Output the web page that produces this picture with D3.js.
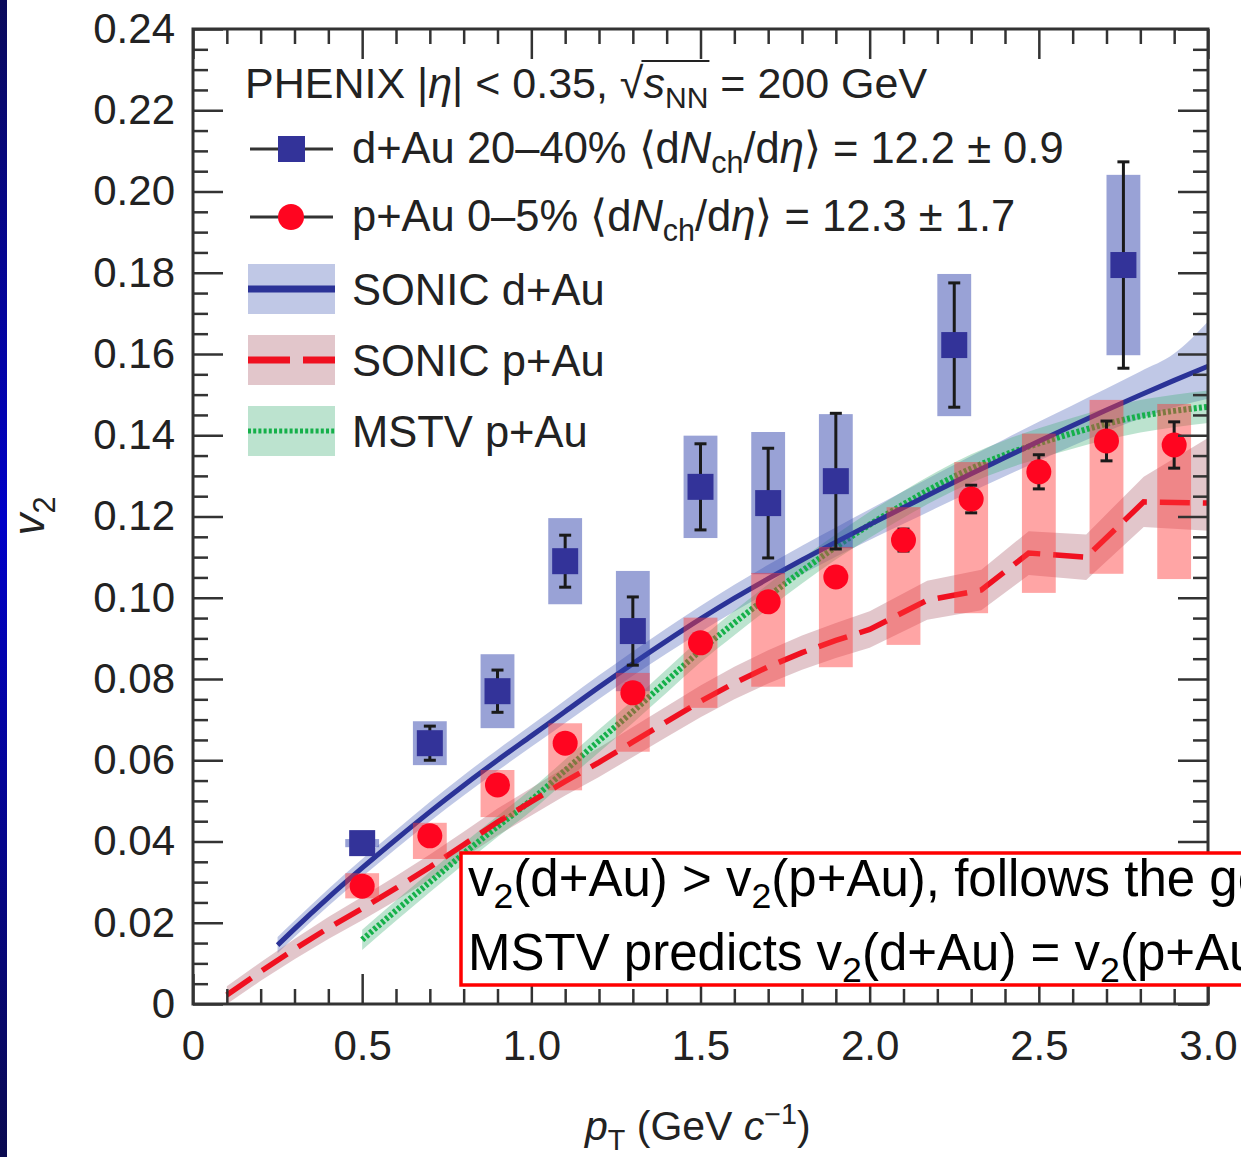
<!DOCTYPE html>
<html>
<head>
<meta charset="utf-8">
<script src="https://cdn.jsdelivr.net/npm/d3@7"></script>
<style>
  html, body { margin: 0; padding: 0; background: #fff; overflow: hidden; }
  svg { display: block; font-family: 'Liberation Sans', Arial, Helvetica, sans-serif; }
</style>
</head>
<body>
<svg id="chart" width="1241" height="1157"></svg>
<script>
// PHENIX d+Au 20-40% points
const dAuPt = [0.5, 0.7, 0.9, 1.1, 1.3, 1.5, 1.7, 1.9, 2.25, 2.75];
const dAuV2 = [0.0396, 0.0642, 0.0770, 0.1090, 0.0918, 0.1273, 0.1233, 0.1287, 0.1622, 0.1819];
const dAuStat = [0.0007, 0.0042, 0.0052, 0.0064, 0.0084, 0.0106, 0.0135, 0.0167, 0.0153, 0.0254];
const dAuSys = [0.0010, 0.0054, 0.0091, 0.0106, 0.0148, 0.0126, 0.0175, 0.0165, 0.0175, 0.0222];

// PHENIX p+Au 0-5% points
const pAuPt = [0.5, 0.7, 0.9, 1.1, 1.3, 1.5, 1.7, 1.9, 2.1, 2.3, 2.5, 2.7, 2.9];
const pAuV2 = [0.0290, 0.0414, 0.0539, 0.0642, 0.0766, 0.0889, 0.0990, 0.1051, 0.1142, 0.1243, 0.1310, 0.1386, 0.1376];
const pAuStat = [0.0005, 0.0007, 0.0009, 0.0011, 0.0014, 0.0017, 0.0020, 0.0023, 0.0027, 0.0034, 0.0042, 0.0049, 0.0057];
const pAuSysUp = [0.0032, 0.0032, 0.0037, 0.0049, 0.0049, 0.0062, 0.0071, 0.0074, 0.0081, 0.0091, 0.0094, 0.0101, 0.0101];
const pAuSysDown = [0.0030, 0.0057, 0.0079, 0.0116, 0.0145, 0.0160, 0.0209, 0.0222, 0.0258, 0.0281, 0.0298, 0.0327, 0.0330];

// SONIC d+Au curve
const sonicDAuPt = [0.25, 0.3, 0.4, 0.5, 0.6, 0.7, 0.8, 0.9, 1.0, 1.1, 1.2, 1.3, 1.4, 1.5, 1.6, 1.7, 1.8, 1.9, 2.0, 2.1, 2.2, 2.3, 2.4, 2.5, 2.6, 2.7, 2.8, 2.9, 3.0];
const sonicDAuV2 = [0.0145, 0.0185, 0.0262, 0.0335, 0.0405, 0.0473, 0.0538, 0.0600, 0.0660, 0.0720, 0.0780, 0.0838, 0.0894, 0.0948, 0.0999, 0.1047, 0.1093, 0.1137, 0.1180, 0.1222, 0.1264, 0.1305, 0.1345, 0.1385, 0.1424, 0.1462, 0.1499, 0.1535, 0.1570];
const sonicDAuBandLo = [0.0020, 0.0020, 0.0021, 0.0022, 0.0023, 0.0024, 0.0025, 0.0026, 0.0027, 0.0028, 0.0029, 0.0030, 0.0031, 0.0032, 0.0033, 0.0034, 0.0035, 0.0036, 0.0038, 0.0040, 0.0042, 0.0044, 0.0046, 0.0048, 0.0050, 0.0053, 0.0058, 0.0066, 0.0080];
const sonicDAuBandHi = [0.0020, 0.0020, 0.0021, 0.0022, 0.0023, 0.0024, 0.0025, 0.0026, 0.0027, 0.0028, 0.0029, 0.0030, 0.0031, 0.0032, 0.0033, 0.0034, 0.0035, 0.0036, 0.0038, 0.0040, 0.0042, 0.0044, 0.0046, 0.0048, 0.0050, 0.0053, 0.0058, 0.0066, 0.0110];

// SONIC p+Au curve
const sonicPAuPt = [0.1, 0.2, 0.3, 0.4, 0.5, 0.6, 0.7, 0.8, 0.9, 1.0, 1.1, 1.2, 1.3, 1.4, 1.5, 1.6, 1.7, 1.8, 1.9, 2.0, 2.17, 2.33, 2.47, 2.64, 2.81, 3.0];
const sonicPAuV2 = [0.0022, 0.0080, 0.0135, 0.0187, 0.0235, 0.0285, 0.0337, 0.0392, 0.0448, 0.0498, 0.0548, 0.0595, 0.0645, 0.0695, 0.0745, 0.0790, 0.0830, 0.0865, 0.0895, 0.0922, 0.0994, 0.1019, 0.1110, 0.1100, 0.1236, 0.1233];
const sonicPAuBandLo = [0.0022, 0.0023, 0.0025, 0.0027, 0.0029, 0.0030, 0.0031, 0.0032, 0.0033, 0.0034, 0.0035, 0.0036, 0.0037, 0.0038, 0.0039, 0.0040, 0.0041, 0.0042, 0.0043, 0.0045, 0.0048, 0.0050, 0.0054, 0.0056, 0.0062, 0.0068];
const sonicPAuBandHi = [0.0022, 0.0023, 0.0025, 0.0027, 0.0029, 0.0030, 0.0031, 0.0032, 0.0033, 0.0034, 0.0035, 0.0036, 0.0037, 0.0038, 0.0039, 0.0040, 0.0041, 0.0042, 0.0043, 0.0045, 0.0048, 0.0050, 0.0054, 0.0056, 0.0062, 0.0160];

// MSTV p+Au curve
const mstvPt = [0.5, 0.6, 0.7, 0.8, 0.9, 1.0, 1.1, 1.2, 1.3, 1.4, 1.5, 1.6, 1.7, 1.8, 1.9, 2.0, 2.1, 2.2, 2.3, 2.4, 2.5, 2.6, 2.7, 2.8, 2.9, 3.0];
const mstvV2 = [0.0158, 0.0230, 0.0300, 0.0370, 0.0437, 0.0502, 0.0575, 0.0648, 0.0720, 0.0795, 0.0870, 0.0938, 0.1003, 0.1066, 0.1125, 0.1180, 0.1230, 0.1277, 0.1318, 0.1352, 0.1380, 0.1405, 0.1428, 0.1447, 0.1460, 0.1470];
const mstvBand = [0.0025, 0.0025, 0.0025, 0.0026, 0.0026, 0.0027, 0.0027, 0.0028, 0.0028, 0.0029, 0.0029, 0.0030, 0.0030, 0.0031, 0.0031, 0.0032, 0.0033, 0.0034, 0.0035, 0.0036, 0.0037, 0.0038, 0.0039, 0.0040, 0.0040, 0.0040];

// axes
const xTickValues = [0, 0.5, 1.0, 1.5, 2.0, 2.5, 3.0];
const xTickLabels = ['0', '0.5', '1.0', '1.5', '2.0', '2.5', '3.0'];
const yTickValues = [0, 0.02, 0.04, 0.06, 0.08, 0.10, 0.12, 0.14, 0.16, 0.18, 0.20, 0.22, 0.24];
const yTickLabels = ['0', '0.02', '0.04', '0.06', '0.08', '0.10', '0.12', '0.14', '0.16', '0.18', '0.20', '0.22', '0.24'];

const width = 1241;
const height = 1157;
const plot = { left: 193, right: 1208, top: 29, bottom: 1004 };
const boxHalf = 0.05;

const svg = d3.select('#chart');

const scaleX = d3.scaleLinear().domain([0, 3]).range([plot.left, plot.right]);
const scaleY = d3.scaleLinear().domain([0, 0.24]).range([plot.bottom, plot.top]);

// navy strip on the left edge
const grad = svg.append('defs').append('linearGradient')
  .attr('id', 'strip').attr('x1', 0).attr('x2', 0).attr('y1', 0).attr('y2', 1);
grad.append('stop').attr('offset', '0%').attr('stop-color', '#0a0a5a');
grad.append('stop').attr('offset', '45%').attr('stop-color', '#0000c8');
grad.append('stop').attr('offset', '100%').attr('stop-color', '#0a0a50');
svg.append('rect').attr('x', 0).attr('y', 0).attr('width', 7).attr('height', height).attr('fill', 'url(#strip)');

const richText = (parent, parts, size) => {
  let shift = 0;
  parts.forEach(p => {
    const target = p.sub ? size * 0.24 : p.sup ? -size * 0.4 : 0;
    const ts = parent.append('tspan').text(p.t);
    if (target !== shift) {
      ts.attr('dy', target - shift);
      shift = target;
    }
    if (p.sub || p.sup) ts.attr('font-size', size * (p.small || 0.7));
    if (p.it) ts.attr('font-style', 'italic');
  });
};

const zip = (a, b, lo, hi) => a.map((d, i) => ({ x: d, y: b[i], lo: lo ? lo[i] : 0, hi: hi ? hi[i] : 0 }));

// theory bands
const bandSmooth = d3.area()
  .curve(d3.curveMonotoneX)
  .x(d => scaleX(d.x))
  .y0(d => scaleY(d.y - d.lo))
  .y1(d => scaleY(d.y + d.hi));
const bandLinear = d3.area()
  .x(d => scaleX(d.x))
  .y0(d => scaleY(d.y - d.lo))
  .y1(d => scaleY(d.y + d.hi));

const groupBands = svg.append('g');
groupBands.append('path').attr('d', bandSmooth(zip(sonicDAuPt, sonicDAuV2, sonicDAuBandLo, sonicDAuBandHi)))
  .attr('fill', '#6a7cc4').attr('opacity', 0.42);
groupBands.append('path').attr('d', bandLinear(zip(sonicPAuPt, sonicPAuV2, sonicPAuBandLo, sonicPAuBandHi)))
  .attr('fill', '#b06070').attr('opacity', 0.36);
groupBands.append('path').attr('d', bandSmooth(zip(mstvPt, mstvV2, mstvBand, mstvBand)))
  .attr('fill', '#40b075').attr('opacity', 0.35);

// theory lines
const lineSmooth = d3.line().curve(d3.curveMonotoneX).x(d => scaleX(d.x)).y(d => scaleY(d.y));
const lineLinear = d3.line().x(d => scaleX(d.x)).y(d => scaleY(d.y));
const groupLines = svg.append('g').attr('fill', 'none');
groupLines.append('path').attr('d', lineSmooth(zip(mstvPt, mstvV2)))
  .attr('stroke', '#15b04a').attr('stroke-width', 6).attr('stroke-dasharray', '3 2.2');
groupLines.append('path').attr('d', lineSmooth(zip(sonicDAuPt, sonicDAuV2)))
  .attr('stroke', '#2b3397').attr('stroke-width', 5);
groupLines.append('path').attr('d', lineLinear(zip(sonicPAuPt, sonicPAuV2)))
  .attr('stroke', '#f01020').attr('stroke-width', 5.5).attr('stroke-dasharray', '30 13');

// systematic boxes
const boxW = scaleX(2 * boxHalf) - scaleX(0);
const groupBoxes = svg.append('g');
groupBoxes.selectAll('rect.sys-dau')
  .data(dAuPt)
  .join('rect')
  .attr('class', 'sys-dau')
  .attr('x', d => scaleX(d - boxHalf))
  .attr('width', boxW)
  .attr('y', (d, i) => scaleY(dAuV2[i] + dAuSys[i]))
  .attr('height', (d, i) => scaleY(dAuV2[i] - dAuSys[i]) - scaleY(dAuV2[i] + dAuSys[i]))
  .attr('fill', '#3346ad').attr('opacity', 0.5);
groupBoxes.selectAll('rect.sys-pau')
  .data(pAuPt)
  .join('rect')
  .attr('class', 'sys-pau')
  .attr('x', d => scaleX(d - boxHalf))
  .attr('width', boxW)
  .attr('y', (d, i) => scaleY(pAuV2[i] + pAuSysUp[i]))
  .attr('height', (d, i) => scaleY(pAuV2[i] - pAuSysDown[i]) - scaleY(pAuV2[i] + pAuSysUp[i]))
  .attr('fill', '#ff3838').attr('opacity', 0.45);

// statistical error bars
const drawErrors = (pts, vals, errs) => {
  const g = svg.append('g').attr('stroke', '#1a1a1a').attr('stroke-width', 3);
  pts.forEach((p, i) => {
    const cx = scaleX(p);
    const y1 = scaleY(vals[i] + errs[i]);
    const y2 = scaleY(vals[i] - errs[i]);
    g.append('line').attr('x1', cx).attr('x2', cx).attr('y1', y1).attr('y2', y2);
    g.append('line').attr('x1', cx - 6).attr('x2', cx + 6).attr('y1', y1).attr('y2', y1);
    g.append('line').attr('x1', cx - 6).attr('x2', cx + 6).attr('y1', y2).attr('y2', y2);
  });
};
drawErrors(dAuPt, dAuV2, dAuStat);
drawErrors(pAuPt, pAuV2, pAuStat);

// markers
const sq = 26;
svg.append('g').selectAll('rect')
  .data(dAuPt)
  .join('rect')
  .attr('x', d => scaleX(d) - sq / 2)
  .attr('y', (d, i) => scaleY(dAuV2[i]) - sq / 2)
  .attr('width', sq).attr('height', sq)
  .attr('fill', '#333399');
svg.append('g').selectAll('circle')
  .data(pAuPt)
  .join('circle')
  .attr('cx', d => scaleX(d))
  .attr('cy', (d, i) => scaleY(pAuV2[i]))
  .attr('r', 12.5)
  .attr('fill', '#ff0520');

// axes and frame
const minorX = d3.range(0.1, 3.0, 0.1).filter(v => Math.abs(v * 2 - Math.round(v * 2)) > 0.01);
const minorY = d3.range(0.005, 0.24, 0.005).filter(v => Math.abs(v * 50 - Math.round(v * 50)) > 0.01);

const styleAxis = g => {
  g.select('.domain').remove();
  g.selectAll('.tick line').attr('stroke', '#333').attr('stroke-width', 2.5);
  g.selectAll('.tick text').attr('font-size', 42).attr('fill', '#222')
    .attr('font-family', "'Liberation Sans', Arial, sans-serif");
};

const axisLayer = svg.append('g');
axisLayer.append('g').attr('transform', `translate(0,${plot.bottom})`)
  .call(d3.axisBottom(scaleX).tickValues(xTickValues).tickFormat((d, i) => xTickLabels[i]).tickSize(-30).tickPadding(26))
  .call(styleAxis);
axisLayer.append('g').attr('transform', `translate(0,${plot.bottom})`)
  .call(d3.axisBottom(scaleX).tickValues(minorX).tickFormat('').tickSize(-15))
  .call(styleAxis);
axisLayer.append('g').attr('transform', `translate(0,${plot.top})`)
  .call(d3.axisTop(scaleX).tickValues(xTickValues).tickFormat('').tickSize(-30))
  .call(styleAxis);
axisLayer.append('g').attr('transform', `translate(0,${plot.top})`)
  .call(d3.axisTop(scaleX).tickValues(minorX).tickFormat('').tickSize(-15))
  .call(styleAxis);
axisLayer.append('g').attr('transform', `translate(${plot.left},0)`)
  .call(d3.axisLeft(scaleY).tickValues(yTickValues).tickFormat((d, i) => yTickLabels[i]).tickSize(-30).tickPadding(18))
  .call(styleAxis);
axisLayer.append('g').attr('transform', `translate(${plot.left},0)`)
  .call(d3.axisLeft(scaleY).tickValues(minorY).tickFormat('').tickSize(-15))
  .call(styleAxis);
axisLayer.append('g').attr('transform', `translate(${plot.right},0)`)
  .call(d3.axisRight(scaleY).tickValues(yTickValues).tickFormat('').tickSize(-30))
  .call(styleAxis);
axisLayer.append('g').attr('transform', `translate(${plot.right},0)`)
  .call(d3.axisRight(scaleY).tickValues(minorY).tickFormat('').tickSize(-15))
  .call(styleAxis);

axisLayer.append('rect')
  .attr('x', plot.left).attr('y', plot.top)
  .attr('width', plot.right - plot.left).attr('height', plot.bottom - plot.top)
  .attr('fill', 'none').attr('stroke', '#333').attr('stroke-width', 3);

// axis titles
const yTitle = svg.append('text')
  .attr('transform', 'translate(44,516) rotate(-90)')
  .attr('text-anchor', 'middle').attr('font-size', 44).attr('fill', '#222');
richText(yTitle, [{ t: 'v', it: true }, { t: '2', sub: true }], 44);

const xTitle = svg.append('text')
  .attr('x', 585).attr('y', 1140).attr('font-size', 41).attr('fill', '#222');
richText(xTitle, [
  { t: 'p', it: true }, { t: 'T', sub: true }, { t: ' (GeV ' }, { t: 'c', it: true },
  { t: '\u22121', sup: true }, { t: ')' }
], 41);

// legend
const legend = svg.append('g').attr('fill', '#222');
const fs = 43.5;

const titleParts = [
  { t: 'PHENIX |' }, { t: '\u03b7', it: true }, { t: '| < 0.35, \u221a' },
  { t: 's', it: true }, { t: 'NN', sub: true }, { t: ' = 200 GeV' }
];
const title = legend.append('text').attr('x', 245).attr('y', 98).attr('font-size', 43);
richText(title, titleParts, 43);
const sStart = titleParts.slice(0, 3).map(p => p.t).join('').length;
const nnEnd = sStart + 2;
const tn = title.node();
const ox1 = tn.getStartPositionOfChar(sStart).x;
const ox2 = tn.getEndPositionOfChar(nnEnd).x;
legend.append('line').attr('x1', ox1 - 2).attr('x2', ox2 + 1).attr('y1', 61).attr('y2', 61)
  .attr('stroke', '#222').attr('stroke-width', 2.2);

const markerRow = (yy, label) => {
  legend.append('line').attr('x1', 250).attr('x2', 333).attr('y1', yy).attr('y2', yy)
    .attr('stroke', '#333').attr('stroke-width', 3);
  const t = legend.append('text').attr('x', 352).attr('y', yy + 14).attr('font-size', fs);
  richText(t, label, fs);
};
markerRow(149, [
  { t: 'd+Au 20\u201340% \u27e8d' }, { t: 'N', it: true }, { t: 'ch', sub: true },
  { t: '/d' }, { t: '\u03b7', it: true }, { t: '\u27e9 = 12.2 \u00b1 0.9' }
]);
legend.append('rect').attr('x', 278).attr('y', 136).attr('width', 27).attr('height', 26).attr('fill', '#333399');
markerRow(217, [
  { t: 'p+Au 0\u20135% \u27e8d' }, { t: 'N', it: true }, { t: 'ch', sub: true },
  { t: '/d' }, { t: '\u03b7', it: true }, { t: '\u27e9 = 12.3 \u00b1 1.7' }
]);
legend.append('circle').attr('cx', 291).attr('cy', 217).attr('r', 13).attr('fill', '#ff0520');

const bandRow = (yy, fill, fillOpacity, stroke, sw, dash, label) => {
  legend.append('rect').attr('x', 248).attr('y', yy - 25).attr('width', 87).attr('height', 50)
    .attr('fill', fill).attr('opacity', fillOpacity);
  const l = legend.append('line').attr('x1', 248).attr('x2', 335).attr('y1', yy).attr('y2', yy)
    .attr('stroke', stroke).attr('stroke-width', sw);
  if (dash) l.attr('stroke-dasharray', dash);
  legend.append('text').attr('x', 352).attr('y', yy + 16).attr('font-size', fs).text(label);
};
bandRow(289, '#6a7cc4', 0.42, '#2b3397', 7, null, 'SONIC d+Au');
bandRow(360, '#b06070', 0.36, '#f01020', 7, '42 13', 'SONIC p+Au');
bandRow(431, '#40b075', 0.35, '#15b04a', 5, '3 2.2', 'MSTV p+Au');

// annotation box (runs past the right edge, as in the source slide)
const note = svg.append('g');
note.append('rect').attr('x', 461).attr('y', 853).attr('width', 900).attr('height', 132)
  .attr('fill', '#fff').attr('stroke', '#ff0000').attr('stroke-width', 3.5);
const noteLine1 = note.append('text').attr('x', 468).attr('y', 896).attr('font-size', 51).attr('fill', '#000');
richText(noteLine1, [
  { t: 'v' }, { t: '2', sub: true }, { t: '(d+Au) > v' }, { t: '2', sub: true },
  { t: '(p+Au), follows the geometry' }
], 51);
const noteLine2 = note.append('text').attr('x', 468).attr('y', 970).attr('font-size', 51).attr('fill', '#000');
richText(noteLine2, [
  { t: 'MSTV predicts v' }, { t: '2', sub: true }, { t: '(d+Au) = v' }, { t: '2', sub: true },
  { t: '(p+Au)' }
], 51);
</script>
</body>
</html>
